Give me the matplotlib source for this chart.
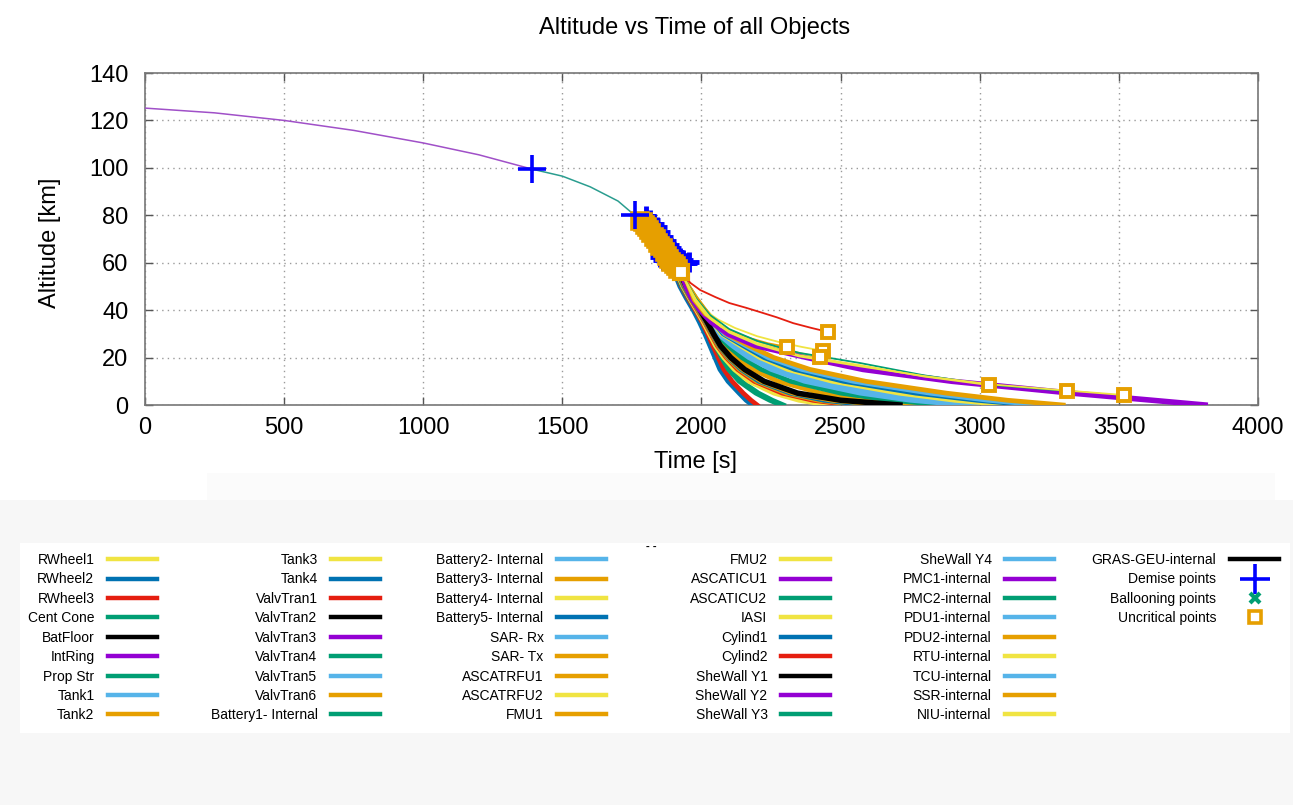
import matplotlib
matplotlib.use("Agg")
import matplotlib.pyplot as plt
from matplotlib.lines import Line2D
from matplotlib.patches import Rectangle

plt.rcParams["font.family"] = ["Liberation Sans", "DejaVu Sans"]

W, H = 1293, 805

YEL = "#f0e442"
BLU = "#0072b2"
RED = "#e51e10"
GRN = "#009e73"
BLK = "#000000"
PUR = "#9400d3"
LBL = "#56b4e9"
ORA = "#e69f00"

# legend, column by column
legend_names = [
    ["RWheel1", "RWheel2", "RWheel3", "Cent Cone", "BatFloor", "IntRing", "Prop Str", "Tank1", "Tank2"],
    ["Tank3", "Tank4", "ValvTran1", "ValvTran2", "ValvTran3", "ValvTran4", "ValvTran5", "ValvTran6",
     "Battery1- Internal"],
    ["Battery2- Internal", "Battery3- Internal", "Battery4- Internal", "Battery5- Internal", "SAR- Rx",
     "SAR- Tx", "ASCATRFU1", "ASCATRFU2", "FMU1"],
    ["FMU2", "ASCATICU1", "ASCATICU2", "IASI", "Cylind1", "Cylind2", "SheWall Y1", "SheWall Y2",
     "SheWall Y3"],
    ["SheWall Y4", "PMC1-internal", "PMC2-internal", "PDU1-internal", "PDU2-internal", "RTU-internal",
     "TCU-internal", "SSR-internal", "NIU-internal"],
    ["GRAS-GEU-internal"],
]
legend_colors = [
    [YEL, BLU, RED, GRN, BLK, PUR, GRN, LBL, ORA],
    [YEL, BLU, RED, BLK, PUR, GRN, LBL, ORA, GRN],
    [LBL, ORA, YEL, BLU, LBL, ORA, ORA, YEL, ORA],
    [YEL, PUR, GRN, YEL, BLU, RED, BLK, PUR, GRN],
    [LBL, PUR, GRN, LBL, ORA, YEL, LBL, ORA, YEL],
    [BLK],
]

# main body before break-up
parent_t = [0, 250, 500, 750, 1000, 1200, 1390]
parent_h = [125.2, 123.2, 120.0, 115.8, 110.5, 105.5, 99.5]
second_t = [1390, 1500, 1600, 1700, 1760]
second_h = [99.5, 96.5, 92.0, 86.0, 80.0]

# fragments reaching the ground: time [s] at each altitude level [km]
h_levels = [55, 50, 45, 40, 35, 30, 25, 20, 15, 10, 5, 2, 0]
ground_names = ["Cylind1", "RWheel2", "Cylind2", "Cent Cone", "Prop Str", "RWheel1", "Tank3", "RWheel3",
                "Tank2", "Tank4", "ValvTran6", "SAR- Tx", "ValvTran4", "Tank1", "SheWall Y4",
                "Battery4- Internal", "Battery5- Internal", "PDU1-internal", "PDU2-internal",
                "BatFloor", "SheWall Y2"]
ground_colors = [BLU, BLU, RED, GRN, GRN, YEL, YEL, RED, ORA, BLU, ORA, ORA, GRN, LBL, LBL,
                 YEL, BLU, LBL, ORA, BLK, PUR]
ground_times = [
    [1905, 1922, 1945, 1970, 1992, 2012, 2030, 2048, 2066, 2095, 2135, 2160, 2182],
    [1908, 1926, 1950, 1975, 1998, 2018, 2036, 2055, 2075, 2105, 2145, 2172, 2195],
    [1910, 1928, 1952, 1978, 2002, 2022, 2041, 2060, 2080, 2110, 2150, 2178, 2200],
    [1912, 1930, 1955, 1982, 2007, 2030, 2050, 2072, 2097, 2135, 2195, 2245, 2285],
    [1914, 1932, 1958, 1985, 2010, 2034, 2055, 2078, 2104, 2143, 2205, 2255, 2295],
    [1915, 1933, 1957, 1982, 2006, 2028, 2050, 2080, 2118, 2170, 2260, 2350, 2455],
    [1916, 1935, 1959, 1984, 2009, 2031, 2054, 2085, 2124, 2180, 2275, 2375, 2500],
    [1917, 1936, 1960, 1986, 2011, 2034, 2057, 2089, 2130, 2190, 2290, 2400, 2535],
    [1918, 1937, 1962, 1988, 2013, 2036, 2060, 2093, 2136, 2198, 2305, 2420, 2565],
    [1919, 1938, 1963, 1990, 2015, 2038, 2063, 2097, 2142, 2206, 2318, 2440, 2595],
    [1921, 1941, 1966, 1992, 2017, 2040, 2065, 2100, 2148, 2215, 2330, 2470, 2655],
    [1926, 1947, 1973, 1999, 2025, 2050, 2080, 2125, 2185, 2275, 2430, 2600, 2780],
    [1927, 1948, 1975, 2002, 2029, 2055, 2095, 2145, 2215, 2320, 2500, 2680, 2870],
    [1928, 1949, 1976, 2004, 2032, 2060, 2110, 2170, 2250, 2370, 2570, 2750, 2940],
    [1928, 1950, 1977, 2006, 2036, 2066, 2125, 2190, 2280, 2420, 2640, 2830, 3020],
    [1929, 1951, 1978, 2008, 2040, 2072, 2140, 2210, 2310, 2470, 2710, 2910, 3100],
    [1929, 1952, 1979, 2010, 2043, 2078, 2150, 2225, 2335, 2510, 2770, 2990, 3180],
    [1930, 1952, 1980, 2011, 2046, 2083, 2160, 2240, 2360, 2545, 2820, 3030, 3220],
    [1930, 1953, 1981, 2013, 2049, 2088, 2170, 2260, 2390, 2590, 2880, 3100, 3300],
    [1925, 1945, 1970, 1995, 2020, 2043, 2068, 2105, 2155, 2225, 2345, 2500, 2713],
    [1930, 1945, 1965, 1995, 2035, 2095, 2195, 2380, 2580, 2900, 3330, 3620, 3810],
]

# fragments that stop being critical above ground (thin lines)
unc_names = ["ValvTran1", "ASCATRFU1", "IASI", "FMU2", "PMC2-internal", "RTU-internal", "NIU-internal"]
unc_colors = [RED, ORA, YEL, YEL, GRN, YEL, YEL]
unc_t = [
    [1935, 1960, 1995, 2050, 2100, 2160, 2210, 2270, 2330, 2395, 2455],
    [1935, 1970, 2010, 2060, 2120, 2180, 2240, 2307],
    [1935, 1975, 2010, 2060, 2120, 2200, 2280, 2360, 2437],
    [1935, 1975, 2015, 2070, 2140, 2220, 2300, 2370, 2426],
    [1935, 1980, 2030, 2100, 2200, 2350, 2570, 2800, 3030, 3200, 3314],
    [1935, 1980, 2030, 2100, 2200, 2350, 2570, 2800, 3033],
    [1935, 1980, 2030, 2100, 2200, 2350, 2570, 2800, 3050, 3300, 3519],
]
unc_h = [
    [55, 51.5, 48.5, 45.5, 43, 41, 39.2, 37, 34.5, 32.5, 30.8],
    [54, 44, 38, 34, 30.5, 28, 26, 24.5],
    [54, 45, 40, 36, 32.5, 29, 26.5, 24.5, 22.8],
    [54, 44, 38, 33, 29, 26, 23.5, 21.5, 20.2],
    [54, 45, 38, 32, 27, 22, 17.7, 12.5, 8.6, 7, 5.9],
    [54, 44.5, 37, 31, 26, 21, 16.8, 12, 8.4],
    [54, 44, 36.5, 30.5, 25.5, 20.5, 16.3, 12.2, 8.6, 6.2, 4.2],
]

# demise points
demise_t = [1390, 1760]
demise_h = [99.5, 80.0]
blob_demise_t = [1802, 1816, 1828, 1840, 1852, 1862, 1872, 1882, 1892, 1902, 1912, 1922, 1932, 1940,
                 1948, 1954, 1850, 1860]
blob_demise_h = [79.5, 78, 76.5, 75, 73, 71, 69, 67.5, 66, 64.5, 63, 62, 61, 60, 60, 60.5, 62.5, 61]

# uncritical points
blob_unc_t = [1780, 1788, 1796, 1804, 1812, 1820, 1828, 1836, 1844, 1852, 1860, 1868, 1876, 1884, 1892,
              1900, 1908, 1916]
blob_unc_h = [77.5, 77, 76, 75, 74, 72.5, 71, 70, 68.5, 67, 66, 64.5, 63, 61.5, 60.5, 59.5, 58.5, 57.5]
last_unc_t = [1925]
last_unc_h = [56.0]

fig = plt.figure(figsize=(W / 100, H / 100), dpi=100)
fig.patches.append(Rectangle((0, 0), 1, (H - 500) / H, transform=fig.transFigure,
                             facecolor="#f7f7f7", edgecolor="none", zorder=-10))
fig.patches.append(Rectangle((207 / W, (H - 500) / H), (1275 - 207) / W, 27 / H, transform=fig.transFigure,
                             facecolor="#fbfbfb", edgecolor="none", zorder=-9))
fig.patches.append(Rectangle((20 / W, 1 - 733 / H), (1290 - 20) / W, (733 - 543) / H,
                             transform=fig.transFigure, facecolor="white", edgecolor="none", zorder=-9))

ax = fig.add_axes([145 / W, 1 - 405 / H, (1258 - 145) / W, (405 - 73) / H])

ax.plot(parent_t, parent_h, color="#a050c8", lw=1.1, zorder=3)
ax.plot(second_t, second_h, color="#2a9d8f", lw=1.1, zorder=3)

for name, c, ts in zip(ground_names, ground_colors, ground_times):
    lw = 4.0 if c in (BLK, PUR) else 3.4
    ax.plot(ts, h_levels, color=c, lw=lw, solid_joinstyle="round", zorder=4)

for c, ts, hs in zip(unc_colors, unc_t, unc_h):
    ax.plot(ts, hs, color=c, lw=1.3, zorder=5)

ax.plot(blob_demise_t, blob_demise_h, ls="none", marker="+", ms=15, mew=3.5, color="#0000ff", zorder=6)
ax.plot(blob_unc_t, blob_unc_h, ls="none", marker="s", ms=11, mew=2.6, mec=ORA, mfc=ORA, zorder=7)
ax.plot(last_unc_t, last_unc_h, ls="none", marker="s", ms=10, mew=3, mec=ORA, mfc="white", zorder=7)
ax.plot(demise_t, demise_h, ls="none", marker="+", ms=20, mew=2.6, color="#0000ff", zorder=8)
end_t = [ts[-1] for ts in unc_t]
end_h = [hs[-1] for hs in unc_h]
ax.plot(end_t, end_h, ls="none", marker="s", ms=9, mew=2.8, mec=ORA, mfc="white", zorder=8)

ax.set_xlim(0, 4000)
ax.set_ylim(0, 140)
ax.set_xticks(range(0, 4001, 500))
ax.set_yticks(range(0, 141, 20))
ax.tick_params(direction="in", length=6, width=1, colors="#555555", labelcolor="black",
               labelsize=17, top=True, right=True)
ax.tick_params(axis="x", pad=9)
ax.tick_params(axis="y", pad=12)
ax.grid(True, ls=(0, (1, 3)), color="#9a9a9a", lw=1)
for s in ax.spines.values():
    s.set_color("#777777")
    s.set_linewidth(1.2)

fig.text(695 / W, 1 - 28 / H, "Altitude vs Time of all Objects", ha="center", va="center", fontsize=17)
fig.text(696 / W, 1 - 462 / H, "Time [s]", ha="center", va="center", fontsize=17)
fig.text(50 / W, 1 - 243 / H, "Altitude [km]", ha="center", va="center", rotation=90, fontsize=17)
fig.text(651 / W, 1 - 546 / H, "- -", ha="center", va="center", fontsize=8, fontweight="bold")

# legend: six columns, handles right of labels
col_right = [157, 380, 606, 830, 1054, 1279]
for j, (names, cols) in enumerate(zip(legend_names, legend_colors)):
    handles = [Line2D([], [], color=c, lw=3.2) for c in cols]
    labels = list(names)
    if j == 5:
        handles += [
            Line2D([], [], ls="none", marker="+", ms=22, mew=2.6, color="#0000ff"),
            Line2D([], [], ls="none", marker="x", ms=7, mew=3, color=GRN),
            Line2D([], [], ls="none", marker="s", ms=8, mew=2.6, mec=ORA, mfc="white"),
        ]
        labels += ["Demise points", "Ballooning points", "Uncritical points"]
    fig.legend(handles, labels, loc="upper right", bbox_to_anchor=(col_right[j] / W, 1 - 553 / H),
               markerfirst=False, frameon=False, fontsize=10, handlelength=3.5, handletextpad=1.0,
               labelspacing=0.39, borderpad=0, borderaxespad=0)

fig.savefig("out.png", dpi=100)
